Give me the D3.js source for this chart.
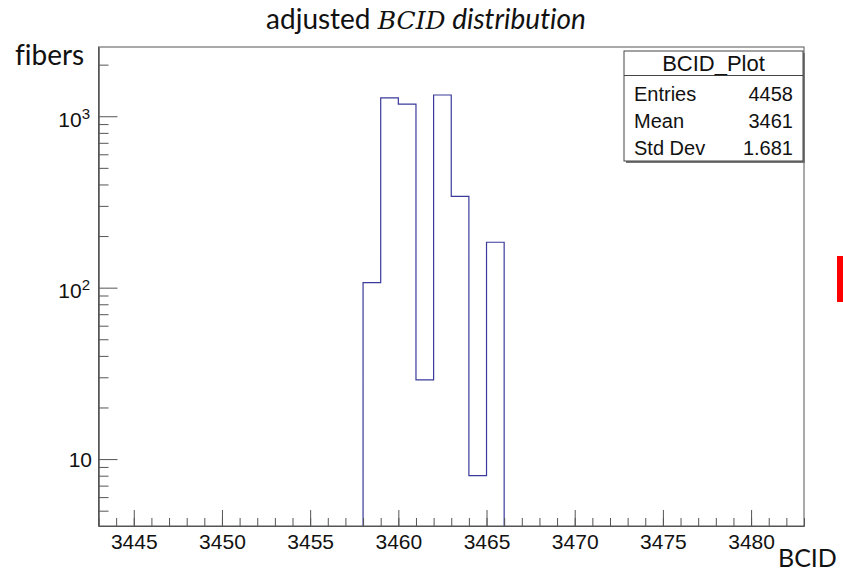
<!DOCTYPE html>
<html>
<head>
<meta charset="utf-8">
<script src="https://cdn.jsdelivr.net/npm/d3@7"></script>
<style>
  body { margin: 0; background: #fff; }
  svg { display: block; }
  text { font-variant-ligatures: none; font-feature-settings: "liga" 0; }
  .tick text { font-family: "Liberation Sans", Arial, sans-serif; }
</style>
</head>
<body>
<div id="chart"></div>
<script>
// histogram data
const binLow = [3458, 3459, 3460, 3461, 3462, 3463, 3464, 3465];
const binCounts = [107, 1281, 1178, 29, 1330, 341, 8, 184];
const binWidth = 1;

const xMajorTicks = [3445, 3450, 3455, 3460, 3465, 3470, 3475, 3480];
const yMajorTicks = [10, 100, 1000];
const yMinorTicks = [5, 6, 7, 8, 9, 20, 30, 40, 50, 60, 70, 80, 90,
  200, 300, 400, 500, 600, 700, 800, 900, 2000];

const statLabels = ['Entries', 'Mean', 'Std Dev'];
const statValues = ['4458', '3461', '1.681'];

const W = 843, H = 571;
const frame = { left: 98.5, right: 804, top: 47, bottom: 526 };
const lineColor = '#3a3a9c';

const svg = d3.select('#chart').append('svg')
  .attr('width', W)
  .attr('height', H);

const x = d3.scaleLinear()
  .domain([3443, 3483])
  .range([frame.left, frame.right]);

const y = d3.scaleLog()
  .domain([4.07, 2535])
  .range([frame.bottom, frame.top]);

// clip for the histogram
svg.append('clipPath').attr('id', 'clip')
  .append('rect')
  .attr('x', frame.left).attr('y', frame.top)
  .attr('width', frame.right - frame.left)
  .attr('height', frame.bottom - frame.top);

// step outline, zero bins fall below the frame
const pts = [{ x: binLow[0], v: 0.1 }];
binLow.forEach((b, i) => pts.push({ x: b, v: binCounts[i] }));
pts.push({ x: binLow[binLow.length - 1] + binWidth, v: 0.1 });

const line = d3.line()
  .x(d => x(d.x))
  .y(d => y(d.v))
  .curve(d3.curveStepAfter);

svg.append('path')
  .datum(pts)
  .attr('clip-path', 'url(#clip)')
  .attr('fill', 'none')
  .attr('stroke', lineColor)
  .attr('stroke-width', 1.2)
  .attr('d', line);

// x axis: minor ticks then majors with labels
const xMinor = d3.axisBottom(x)
  .tickValues(d3.range(3443, 3484))
  .tickSizeInner(-8)
  .tickSizeOuter(0)
  .tickFormat('');
svg.append('g')
  .attr('transform', `translate(0,${frame.bottom})`)
  .call(xMinor);

const xAxis = d3.axisBottom(x)
  .tickValues(xMajorTicks)
  .tickSizeInner(-16)
  .tickSizeOuter(0)
  .tickPadding(8)
  .tickFormat(d3.format('d'));
svg.append('g')
  .attr('transform', `translate(0,${frame.bottom})`)
  .call(xAxis)
  .call(g => g.selectAll('text').attr('font-size', 21).attr('fill', '#111'));

// y axis
const yMinor = d3.axisLeft(y)
  .tickValues(yMinorTicks)
  .tickSizeInner(-10)
  .tickSizeOuter(0)
  .tickFormat('');
svg.append('g')
  .attr('transform', `translate(${frame.left},0)`)
  .call(yMinor);

const yAxis = d3.axisLeft(y)
  .tickValues(yMajorTicks)
  .tickSizeInner(-19)
  .tickSizeOuter(0)
  .tickFormat('');
svg.append('g')
  .attr('transform', `translate(${frame.left},0)`)
  .call(yAxis);

svg.selectAll('.domain').attr('stroke', '#555');
svg.selectAll('.tick line').attr('stroke', '#555');

// y labels with superscripts
yMajorTicks.forEach(v => {
  const p = Math.round(Math.log10(v));
  const t = svg.append('text')
    .attr('font-family', '"Liberation Sans", Arial, sans-serif')
    .attr('font-size', 21)
    .attr('fill', '#111')
    .attr('text-anchor', 'end');
  if (p === 1) {
    t.attr('x', 92).attr('y', y(v) + 7.5).text('10');
  } else {
    t.attr('x', 90).attr('y', y(v) + 10.5);
    t.append('tspan').text('10');
    t.append('tspan').attr('font-size', 15).attr('dy', -8).text(p);
  }
});

// frame
svg.append('rect')
  .attr('x', frame.left).attr('y', frame.top)
  .attr('width', frame.right - frame.left)
  .attr('height', frame.bottom - frame.top)
  .attr('fill', 'none')
  .attr('stroke', '#555')
  .attr('stroke-width', 1);

// stats box
const box = { x: 624, y: 51, w: 179, h: 110 };
svg.append('rect')
  .attr('x', box.x + 2).attr('y', box.y + 2)
  .attr('width', box.w).attr('height', box.h)
  .attr('fill', '#777');
svg.append('rect')
  .attr('x', box.x).attr('y', box.y)
  .attr('width', box.w).attr('height', box.h)
  .attr('fill', '#fff')
  .attr('stroke', '#444');
svg.append('line')
  .attr('x1', box.x).attr('x2', box.x + box.w)
  .attr('y1', 75.5).attr('y2', 75.5)
  .attr('stroke', '#444');

const statFont = '"Liberation Sans", Arial, sans-serif';
svg.append('text')
  .attr('x', box.x + box.w / 2).attr('y', 71)
  .attr('text-anchor', 'middle')
  .attr('font-family', statFont)
  .attr('font-size', 22)
  .attr('fill', '#111')
  .text('BCID_Plot');

statLabels.forEach((lab, i) => {
  const by = 101 + i * 27;
  svg.append('text')
    .attr('x', box.x + 10).attr('y', by)
    .attr('font-family', statFont)
    .attr('font-size', 20)
    .attr('fill', '#111')
    .text(lab);
  svg.append('text')
    .attr('x', box.x + box.w - 10).attr('y', by)
    .attr('text-anchor', 'end')
    .attr('font-family', statFont)
    .attr('font-size', 20)
    .attr('fill', '#111')
    .text(statValues[i]);
});

// title
const title = svg.append('text')
  .attr('x', 426).attr('y', 29)
  .attr('text-anchor', 'middle')
  .attr('font-family', 'Lato, "Open Sans", sans-serif')
  .attr('font-size', 28)
  .attr('fill', '#111');
title.append('tspan').text('adjusted ');
title.append('tspan')
  .attr('font-family', '"DejaVu Serif", "Liberation Serif", serif')
  .attr('font-style', 'italic')
  .attr('font-size', 25)
  .text('BCID');
title.append('tspan').attr('font-style', 'italic').text(' distribution');

// axis titles
svg.append('text')
  .attr('x', 15).attr('y', 65)
  .attr('font-family', 'Lato, "Open Sans", sans-serif')
  .attr('font-size', 28)
  .attr('fill', '#111')
  .text('fibers');

svg.append('text')
  .attr('x', 778).attr('y', 567)
  .attr('font-family', 'Lato, "Open Sans", sans-serif')
  .attr('font-size', 25)
  .attr('fill', '#111')
  .text('BCID');

// red marker at the right edge
svg.append('rect')
  .attr('x', 837).attr('y', 256)
  .attr('width', 7).attr('height', 46)
  .attr('fill', '#ff0000');
</script>
</body>
</html>
